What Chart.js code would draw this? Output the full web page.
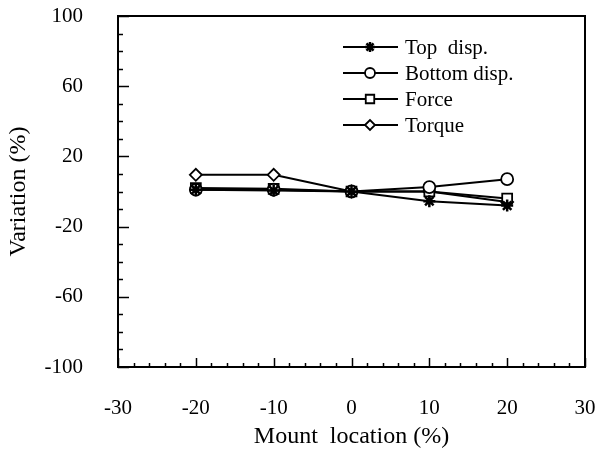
<!DOCTYPE html>
<html>
<head>
<meta charset="utf-8">
<script src="https://cdn.jsdelivr.net/npm/chart.js@4/dist/chart.umd.min.js"></script>
<style>
html,body{margin:0;padding:0;background:#fff;}
#wrap{width:604px;height:452px;}
</style>
</head>
<body>
<div id="wrap"><canvas id="c" width="604" height="452"></canvas></div>
<script>
const mountLocation = [-20, -10, 0, 10, 20];
const topDisp    = [1, 0.5, 0, -5.5, -8];
const bottomDisp = [1, 1, 0, 2.5, 7];
const force      = [2, 1.5, 0, 0, -4];
const torque     = [9.5, 9.5, 0, 0, -6];
const seriesNames = ["Top  disp.", "Bottom disp.", "Force", "Torque"];
const xTicks = [-30, -20, -10, 0, 10, 20, 30];
const yTicks = [-100, -60, -20, 20, 60, 100];

const FONT = "'Liberation Serif', 'Times New Roman', serif";
const pts = arr => mountLocation.map((x, i) => ({x: x, y: arr[i]}));
const styles = ['star', 'circle', 'rect', 'rectRot'];
const radii = [6, 6, 7, 6];
const allData = [topDisp, bottomDisp, force, torque];

const datasets = allData.map((arr, i) => ({
  label: seriesNames[i],
  data: pts(arr),
  borderColor: '#000',
  backgroundColor: '#fff',
  borderWidth: 2,
  pointStyle: styles[i],
  pointRadius: radii[i],
  pointBorderWidth: i === 0 ? 2.5 : 1.8,
  pointBackgroundColor: '#fff',
  pointBorderColor: '#000',
  showLine: true,
  tension: 0
}));

const framePlugin = {
  id: 'frame',
  afterDatasetsDraw(chart) {
    const ctx = chart.ctx, a = chart.chartArea;
    const xs = chart.scales.x, ys = chart.scales.y;
    ctx.save();
    ctx.strokeStyle = '#000';
    ctx.lineWidth = 2;
    ctx.strokeRect(a.left, a.top, a.right - a.left, a.bottom - a.top);
    ctx.lineWidth = 1.5;
    for (let v = -100; v <= 100; v += 10) {
      const y = Math.round(ys.getPixelForValue(v)) + 0.5;
      const len = (yTicks.includes(v)) ? 11 : 5;
      ctx.beginPath(); ctx.moveTo(a.left, y); ctx.lineTo(a.left + len, y); ctx.stroke();
    }
    for (let v = -30; v <= 30; v += 2) {
      const x = Math.round(xs.getPixelForValue(v)) + 0.5;
      const len = (xTicks.includes(v)) ? 9 : 4;
      ctx.beginPath(); ctx.moveTo(x, a.bottom); ctx.lineTo(x, a.bottom - len); ctx.stroke();
    }
    const rows = [47, 73, 99, 125];
    ctx.font = '21px ' + FONT;
    ctx.textBaseline = 'middle';
    chart.data.datasets.forEach((ds, i) => {
      const y = rows[i];
      ctx.lineWidth = 2;
      ctx.beginPath(); ctx.moveTo(343, y); ctx.lineTo(398, y); ctx.stroke();
      ctx.fillStyle = '#fff';
      ctx.lineWidth = ds.pointBorderWidth;
      Chart.helpers.drawPoint(ctx, {
        pointStyle: ds.pointStyle, radius: ds.pointRadius - 1, rotation: 0,
        borderWidth: ds.pointBorderWidth
      }, 370, y);
      ctx.fillStyle = '#000';
      ctx.fillText(ds.label, 405, y + 1);
    });
    ctx.restore();
  }
};

new Chart(document.getElementById('c'), {
  type: 'scatter',
  data: { datasets: datasets },
  options: {
    responsive: false,
    animation: false,
    devicePixelRatio: 1,
    layout: { padding: { left: 0, right: 19, top: 16, bottom: 0 } },
    plugins: { legend: { display: false }, tooltip: { enabled: false } },
    scales: {
      x: {
        type: 'linear', min: -30, max: 30,
        afterFit(s) { s.height = 85; s.paddingLeft = 0; s.paddingRight = 0; },
        grid: { display: false, drawTicks: false },
        border: { display: false },
        ticks: { stepSize: 10, color: '#000', padding: 29, font: { family: FONT, size: 21 }, maxRotation: 0 },
        title: { display: true, text: 'Mount  location (%)', color: '#000', font: { family: FONT, size: 24 }, padding: { top: 0, bottom: 1 } }
      },
      y: {
        type: 'linear', min: -100, max: 100,
        afterFit(s) { s.width = 118; s.paddingTop = 0; s.paddingBottom = 0; },
        grid: { display: false, drawTicks: false },
        border: { display: false },
        ticks: { stepSize: 40, color: '#000', padding: 35, font: { family: FONT, size: 21 } },
        title: { display: true, text: 'Variation (%)', color: '#000', font: { family: FONT, size: 24 }, padding: { top: 4, bottom: 0 } }
      }
    }
  },
  plugins: [framePlugin]
});
</script>
</body>
</html>
